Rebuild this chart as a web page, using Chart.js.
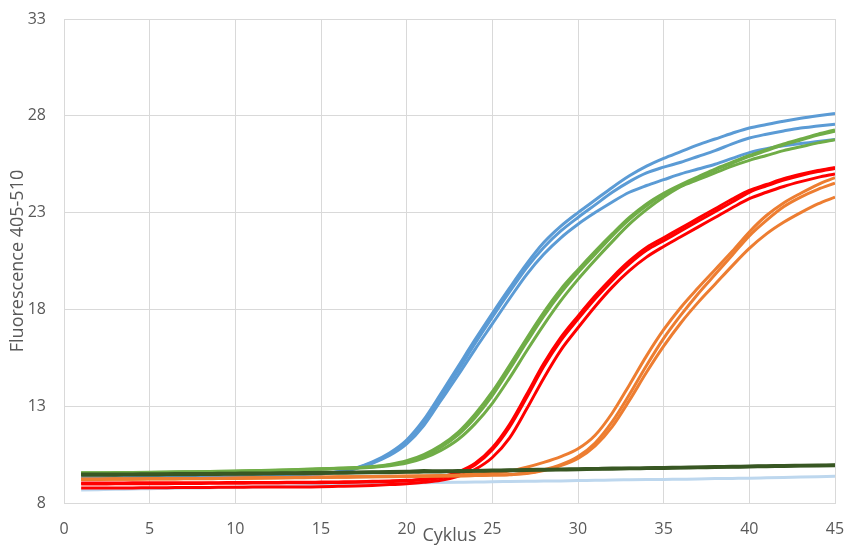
<!DOCTYPE html>
<html>
<head>
<meta charset="utf-8">
<script src="https://cdn.jsdelivr.net/npm/chart.js@4.4.1/dist/chart.umd.min.js"></script>
<style>
  html, body { margin: 0; padding: 0; background: #fff; }
  #wrap { width: 848px; height: 547px; }
</style>
</head>
<body>
<div id="wrap"><canvas id="chart" width="848" height="547"></canvas></div>
<script>
// cykly
const cycles = [1, 2, 3, 4, 5, 6, 7, 8, 9, 10, 11, 12, 13, 14, 15, 16, 17, 18, 19, 20, 21, 22, 23,
  24, 25, 26, 27, 28, 29, 30, 31, 32, 33, 34, 35, 36, 37, 38, 39, 40, 41, 42, 43, 44, 45];

const xTicks = [0, 5, 10, 15, 20, 25, 30, 35, 40, 45];
const yTicks = [8, 13, 18, 23, 28, 33];

// modré
const blue1 = [9.29, 9.29, 9.30, 9.31, 9.32, 9.33, 9.34, 9.35, 9.37, 9.38, 9.40, 9.42, 9.44, 9.47, 9.51,
  9.62, 9.80, 10.12, 10.58, 11.25, 12.3, 13.65, 15.05, 16.45, 17.8,
  19.1, 20.35, 21.45, 22.3, 23.0, 23.65, 24.3, 24.9, 25.4, 25.8,
  26.15, 26.5, 26.8, 27.1, 27.37, 27.55, 27.72, 27.87, 28.0, 28.12];
const blue2 = [9.27, 9.27, 9.28, 9.29, 9.30, 9.31, 9.32, 9.34, 9.35, 9.37, 9.39, 9.41, 9.43, 9.46, 9.50,
  9.60, 9.78, 10.08, 10.52, 11.18, 12.2, 13.5, 14.85, 16.25, 17.6,
  18.9, 20.15, 21.2, 22.05, 22.75, 23.4, 24.05, 24.6, 25.05, 25.35,
  25.6, 25.9, 26.2, 26.55, 26.85, 27.05, 27.22, 27.37, 27.47, 27.57];
const blue3 = [9.28, 9.28, 9.29, 9.30, 9.31, 9.32, 9.33, 9.34, 9.36, 9.37, 9.39, 9.41, 9.43, 9.46, 9.50,
  9.60, 9.77, 10.05, 10.45, 11.05, 12.0, 13.3, 14.6, 15.95, 17.25,
  18.55, 19.8, 20.85, 21.7, 22.4, 23.0, 23.55, 24.05, 24.4, 24.7,
  25.0, 25.25, 25.5, 25.8, 26.1, 26.3, 26.45, 26.57, 26.67, 26.77];

// zelené
const green1 = [9.56, 9.56, 9.57, 9.58, 9.59, 9.60, 9.61, 9.62, 9.64, 9.65, 9.67, 9.69, 9.71, 9.74, 9.77,
  9.80, 9.83, 9.88, 9.99, 10.18, 10.5, 10.98, 11.65, 12.6, 13.75,
  15.1, 16.5, 17.85, 19.05, 20.05, 21.0, 21.9, 22.75, 23.45, 24.0,
  24.45, 24.85, 25.25, 25.6, 25.95, 26.25, 26.55, 26.8, 27.05, 27.27];
const green2 = [9.54, 9.54, 9.55, 9.56, 9.57, 9.58, 9.59, 9.60, 9.62, 9.63, 9.65, 9.67, 9.69, 9.72, 9.75,
  9.78, 9.80, 9.84, 9.92, 10.06, 10.32, 10.72, 11.28, 12.1, 13.15,
  14.45, 15.85, 17.2, 18.45, 19.55, 20.55, 21.5, 22.4, 23.15, 23.8,
  24.35, 24.8, 25.2, 25.55, 25.9, 26.2, 26.5, 26.75, 27.0, 27.2];
const green3 = [9.55, 9.55, 9.56, 9.57, 9.58, 9.59, 9.60, 9.61, 9.63, 9.64, 9.66, 9.68, 9.70, 9.73, 9.76,
  9.79, 9.82, 9.86, 9.96, 10.13, 10.43, 10.88, 11.52, 12.42, 13.55,
  14.9, 16.3, 17.65, 18.85, 19.9, 20.85, 21.8, 22.65, 23.35, 23.95,
  24.35, 24.7, 25.05, 25.4, 25.7, 25.95, 26.2, 26.4, 26.6, 26.77];

// červené
const red1 = [9.03, 9.03, 9.03, 9.04, 9.04, 9.04, 9.05, 9.05, 9.05, 9.06, 9.06, 9.06, 9.07, 9.07, 9.08,
  9.09, 9.10, 9.12, 9.14, 9.17, 9.23, 9.34, 9.6, 10.05, 10.85,
  12.05, 13.6, 15.2, 16.55, 17.65, 18.7, 19.65, 20.5, 21.2, 21.7,
  22.2, 22.7, 23.2, 23.7, 24.15, 24.45, 24.75, 24.98, 25.17, 25.33];
const red2 = [8.77, 8.77, 8.78, 8.78, 8.79, 8.79, 8.80, 8.80, 8.81, 8.81, 8.82, 8.82, 8.83, 8.83, 8.84,
  8.86, 8.88, 8.91, 8.95, 9.0, 9.07, 9.17, 9.38, 9.74, 10.35,
  11.35, 12.85, 14.45, 15.9, 17.05, 18.15, 19.15, 20.0, 20.7, 21.25,
  21.75, 22.25, 22.75, 23.25, 23.72, 24.05, 24.35, 24.6, 24.82, 25.0];
const red3 = [8.98, 8.98, 8.99, 8.99, 9.0, 9.0, 9.01, 9.01, 9.02, 9.02, 9.03, 9.03, 9.04, 9.04, 9.05,
  9.06, 9.07, 9.09, 9.11, 9.14, 9.2, 9.3, 9.55, 9.98, 10.75,
  11.92, 13.45, 15.05, 16.4, 17.5, 18.55, 19.5, 20.35, 21.05, 21.55,
  22.05, 22.55, 23.05, 23.55, 24.05, 24.38, 24.68, 24.92, 25.12, 25.28];

// oranžové
const orange1 = [9.24, 9.24, 9.25, 9.25, 9.26, 9.26, 9.27, 9.27, 9.28, 9.29, 9.30, 9.31, 9.32, 9.33, 9.34,
  9.35, 9.36, 9.37, 9.38, 9.39, 9.40, 9.42, 9.45, 9.5, 9.55,
  9.65, 9.85, 10.1, 10.4, 10.8, 11.5, 12.65, 14.1, 15.6, 16.95,
  18.1, 19.1, 20.05, 21.0, 22.0, 22.85, 23.5, 24.0, 24.45, 24.8];
const orange2 = [9.22, 9.22, 9.23, 9.23, 9.24, 9.24, 9.25, 9.25, 9.26, 9.27, 9.28, 9.29, 9.30, 9.31, 9.32,
  9.33, 9.34, 9.35, 9.36, 9.37, 9.38, 9.39, 9.40, 9.42, 9.44,
  9.47, 9.55, 9.72, 9.98, 10.4, 11.1, 12.2, 13.6, 15.1, 16.5,
  17.7, 18.8, 19.8, 20.8, 21.8, 22.6, 23.3, 23.8, 24.2, 24.52];
const orange3 = [9.23, 9.23, 9.24, 9.24, 9.25, 9.25, 9.26, 9.26, 9.27, 9.28, 9.29, 9.30, 9.31, 9.32, 9.33,
  9.34, 9.35, 9.36, 9.37, 9.38, 9.39, 9.40, 9.41, 9.42, 9.44,
  9.46, 9.52, 9.68, 9.93, 10.3, 10.95, 11.95, 13.3, 14.75, 16.1,
  17.3, 18.35, 19.3, 20.25, 21.15, 21.9, 22.5, 23.0, 23.45, 23.8];

// negativní kontroly
const dark1 = [9.48, 9.48, 9.49, 9.49, 9.50, 9.50, 9.51, 9.51, 9.52, 9.53, 9.54, 9.54, 9.55, 9.56, 9.57,
  9.58, 9.59, 9.60, 9.61, 9.63, 9.66, 9.65, 9.66, 9.67, 9.69, 9.70, 9.72, 9.73, 9.74, 9.76,
  9.77, 9.80, 9.79, 9.81, 9.82, 9.84, 9.85, 9.87, 9.88, 9.90, 9.91, 9.93, 9.94, 9.95, 9.96];
const dark2 = [9.44, 9.45, 9.45, 9.46, 9.46, 9.47, 9.47, 9.48, 9.49, 9.50, 9.50, 9.51, 9.52, 9.53, 9.54,
  9.55, 9.56, 9.57, 9.58, 9.60, 9.61, 9.62, 9.63, 9.65, 9.66, 9.68, 9.69, 9.71, 9.72, 9.73,
  9.75, 9.76, 9.78, 9.79, 9.80, 9.82, 9.83, 9.85, 9.86, 9.87, 9.89, 9.90, 9.92, 9.93, 9.94];
const lightBlue = [8.67, 8.69, 8.71, 8.72, 8.74, 8.75, 8.77, 8.78, 8.80, 8.82, 8.83, 8.85, 8.87, 8.89, 8.91,
  8.93, 8.95, 8.97, 8.99, 9.02, 9.05, 9.06, 9.07, 9.08, 9.10, 9.11, 9.12, 9.13, 9.14, 9.16,
  9.17, 9.19, 9.20, 9.21, 9.22, 9.23, 9.24, 9.26, 9.27, 9.28, 9.30, 9.32, 9.34, 9.36, 9.38];

// pořadí kreslení: první dole, poslední nahoře
const series = [
  { data: lightBlue, color: '#BDD7EE', width: 3 },
  { data: blue1, color: '#5B9BD5', width: 3 },
  { data: blue2, color: '#5B9BD5', width: 3 },
  { data: blue3, color: '#5B9BD5', width: 3 },
  { data: green1, color: '#70AD47', width: 3 },
  { data: green2, color: '#70AD47', width: 3 },
  { data: green3, color: '#70AD47', width: 3 },
  { data: red1, color: '#FF0000', width: 3 },
  { data: red2, color: '#FF0000', width: 3 },
  { data: red3, color: '#FF0000', width: 3 },
  { data: orange1, color: '#ED7D31', width: 3 },
  { data: orange2, color: '#ED7D31', width: 3 },
  { data: orange3, color: '#ED7D31', width: 3 },
  { data: dark2, color: '#385723', width: 3.5 },
  { data: dark1, color: '#385723', width: 3.5 }
];

// Chart.js kreslí dataset 0 navrch, proto reverse
const datasets = series.map(s => ({
  data: cycles.map((c, i) => ({ x: c, y: s.data[i] })),
  borderColor: s.color,
  borderWidth: s.width,
  pointRadius: 0,
  fill: false,
  cubicInterpolationMode: 'monotone'
})).reverse();

const gray = '#595959';
const gridColor = '#d9d9d9';

new Chart(document.getElementById('chart'), {
  type: 'line',
  data: { datasets },
  options: {
    responsive: false,
    devicePixelRatio: 1,
    animation: false,
    layout: { padding: { top: 19, right: 13, left: 0, bottom: 0 } },
    plugins: { legend: { display: false }, tooltip: { enabled: false } },
    scales: {
      x: {
        type: 'linear',
        min: xTicks[0],
        max: xTicks[xTicks.length - 1],
        afterBuildTicks: s => { s.ticks = xTicks.map(v => ({ value: v })); },
        afterFit: s => { s.height = 44; },
        ticks: { color: gray, font: { family: 'Open Sans', size: 16 }, padding: 3, maxRotation: 0 },
        // neviditelné čárky jen odsunou popisky
        grid: { color: gridColor, drawTicks: true, tickLength: 14, tickColor: 'rgba(0,0,0,0)' },
        border: { color: gridColor },
        title: { display: true, text: 'Cyklus', color: gray, font: { family: 'Open Sans', size: 18 }, padding: 0 }
      },
      y: {
        min: yTicks[0],
        max: yTicks[yTicks.length - 1],
        afterBuildTicks: s => { s.ticks = yTicks.map(v => ({ value: v })); },
        afterFit: s => { s.width = 64; },
        ticks: { color: gray, font: { family: 'Open Sans', size: 16 }, padding: 3 },
        grid: { color: gridColor, drawTicks: true, tickLength: 15, tickColor: 'rgba(0,0,0,0)' },
        border: { color: gridColor },
        title: { display: true, text: 'Fluorescence 405-510', color: gray, font: { family: 'Open Sans', size: 18 }, padding: { top: 7, bottom: 0 } }
      }
    }
  }
});
</script>
</body>
</html>
